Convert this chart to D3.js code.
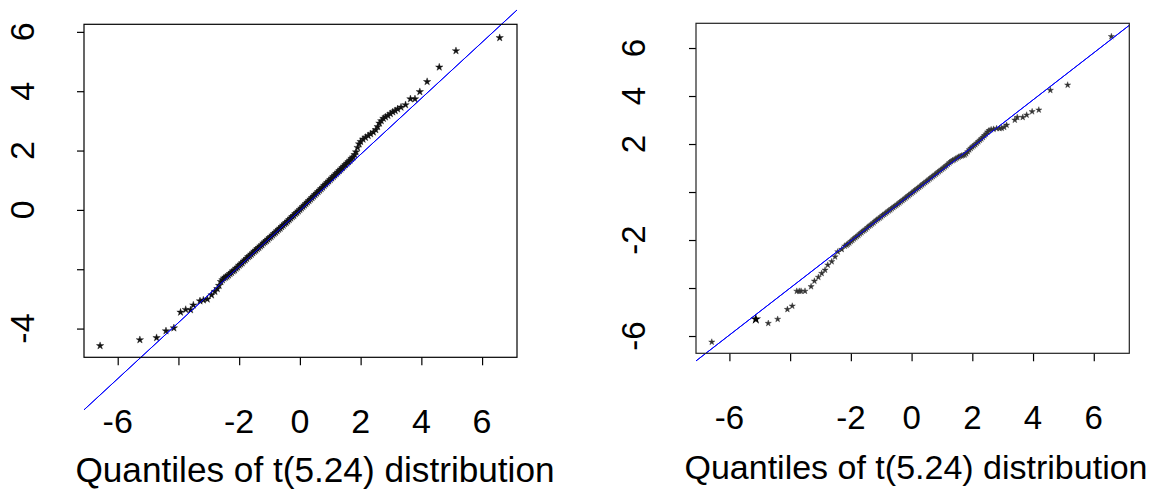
<!DOCTYPE html>
<html>
<head>
<meta charset="utf-8">
<script src="https://cdn.jsdelivr.net/npm/d3@7"></script>
<style>
  body { margin: 0; background: #fff; }
  svg text { font-family: "Liberation Sans", Arial, sans-serif; fill: #000; }
</style>
</head>
<body>
<svg id="chart" width="1160" height="495"></svg>
<script>
// ---- data ----
const xTicks = [-6, -4, -2, 0, 2, 4, 6];
const xTickLabels = [-6, -2, 0, 2, 4, 6];          // R dropped "-4" (overlap)
const xTitle = "Quantiles of t(5.24) distribution";

// left panel
const leftYTicks = [-4, -2, 0, 2, 4, 6];
const leftYTickLabels = [6, 4, 2, 0, -4];
const leftFit = [-0.02, 0.945];                     // intercept, slope
const leftQx = [-6.58, -5.27, -4.72, -4.41, -4.15, -3.93, -3.76, -3.60, -3.51, -3.29, -3.18, -3.05, -2.91, -2.80, -2.72, -2.66,
  -2.60, -2.55, -2.50, -2.45, -2.40, -2.35, -2.30, -2.25, -2.20, -2.15, -2.10, -2.05, -2.00, -1.95, -1.90, -1.85, -1.80, -1.75,
  -1.70, -1.65, -1.60, -1.55, -1.50, -1.45, -1.40, -1.35, -1.30, -1.25, -1.20, -1.15, -1.10, -1.05, -1.00, -0.95, -0.90, -0.85,
  -0.80, -0.75, -0.70, -0.65, -0.60, -0.55, -0.50, -0.45, -0.40, -0.35, -0.30, -0.25, -0.20, -0.15, -0.10, -0.05, 0.00, 0.05,
  0.10, 0.15, 0.20, 0.25, 0.30, 0.35, 0.40, 0.45, 0.50, 0.55, 0.60, 0.65, 0.70, 0.75, 0.80, 0.85, 0.90, 0.95, 1.00, 1.05,
  1.10, 1.15, 1.20, 1.25, 1.30, 1.35, 1.40, 1.45, 1.50, 1.55, 1.60, 1.65, 1.70, 1.75, 1.80,
  1.85, 1.90, 1.95, 2.00, 2.08, 2.16, 2.25, 2.33, 2.42, 2.50, 2.56, 2.62, 2.68, 2.75, 2.82, 2.90, 2.98, 3.06, 3.14, 3.22,
  3.33, 3.48, 3.64, 3.79, 3.95, 4.19, 4.59, 5.14, 6.58];
const leftQy = [-4.58, -4.38, -4.31, -4.08, -3.98, -3.45, -3.36, -3.37, -3.21, -3.07, -3.04, -3.01, -2.87, -2.75, -2.66, -2.55,
  -2.42, -2.36, -2.30, -2.27, -2.24, -2.20, -2.15, -2.11, -2.06, -2.03, -1.97, -1.93, -1.87, -1.83, -1.79, -1.73, -1.69, -1.64,
  -1.58, -1.55, -1.50, -1.45, -1.40, -1.36, -1.31, -1.27, -1.22, -1.18, -1.12, -1.08, -1.04, -0.99, -0.94, -0.90, -0.85, -0.80,
  -0.76, -0.71, -0.66, -0.62, -0.57, -0.52, -0.47, -0.43, -0.38, -0.33, -0.28, -0.23, -0.19, -0.13, -0.09, -0.04, 0.01, 0.06,
  0.11, 0.16, 0.21, 0.26, 0.31, 0.36, 0.41, 0.46, 0.51, 0.56, 0.61, 0.66, 0.71, 0.76, 0.82, 0.87, 0.92, 0.97, 1.02, 1.07,
  1.12, 1.17, 1.22, 1.27, 1.32, 1.37, 1.42, 1.47, 1.52, 1.57, 1.62, 1.67, 1.73, 1.78, 1.86,
  1.95, 2.10, 2.22, 2.30, 2.38, 2.44, 2.50, 2.56, 2.62, 2.70, 2.80, 2.92, 3.00, 3.08, 3.13, 3.18, 3.24, 3.30, 3.34, 3.40,
  3.46, 3.54, 3.74, 3.74, 3.98, 4.32, 4.81, 5.36, 5.80];

// right panel
const rightYTicks = [-6, -4, -2, 0, 2, 4, 6];
const rightYTickLabels = [6, 4, 2, -2, -6];
const rightFit = [-0.08, 0.98];
const rightQx = [-6.58, -4.72, -4.41, -4.09, -3.93, -3.78, -3.70, -3.64, -3.51, -3.31, -3.20, -3.07, -2.96, -2.85, -2.76, -2.63,
  -2.52, -2.43, -2.30, -2.20, -2.14,
  -2.10, -2.05, -2.00, -1.95, -1.90, -1.85, -1.80, -1.75, -1.70, -1.65, -1.60, -1.55, -1.50, -1.45, -1.40, -1.35, -1.30, -1.25,
  -1.20, -1.15, -1.10, -1.05, -1.00, -0.95, -0.90, -0.85, -0.80, -0.75, -0.70, -0.65, -0.60, -0.55, -0.50, -0.45, -0.40, -0.35,
  -0.30, -0.25, -0.20, -0.15, -0.10, -0.05, 0.00, 0.05, 0.10, 0.15, 0.20, 0.25, 0.30, 0.35, 0.40, 0.45, 0.50, 0.55, 0.60, 0.65,
  0.70, 0.75, 0.80, 0.85, 0.90, 0.95, 1.00, 1.05, 1.10, 1.15, 1.20, 1.25, 1.30, 1.35, 1.40, 1.45, 1.50, 1.55, 1.60, 1.65, 1.70,
  1.75, 1.80, 1.85, 1.90, 1.95, 2.00, 2.05, 2.10, 2.15, 2.20, 2.25, 2.30, 2.35, 2.40, 2.45, 2.50, 2.55,
  2.62, 2.70, 2.80, 2.90, 2.97, 3.05, 3.13, 3.40, 3.48, 3.66, 3.79, 3.97, 4.19, 4.57, 5.14, 6.58];
const rightQy = [-6.25, -5.47, -5.30, -4.89, -4.75, -4.13, -4.13, -4.13, -4.13, -3.94, -3.71, -3.55, -3.39, -3.25, -3.04, -2.90,
  -2.70, -2.49, -2.39, -2.25, -2.21,
  -2.17, -2.12, -2.06, -2.01, -1.95, -1.90, -1.85, -1.80, -1.74, -1.69, -1.63, -1.59, -1.54, -1.48, -1.42, -1.38, -1.33, -1.28,
  -1.22, -1.17, -1.12, -1.08, -1.03, -0.97, -0.93, -0.88, -0.83, -0.78, -0.74, -0.69, -0.64, -0.59, -0.55, -0.50, -0.45, -0.40,
  -0.35, -0.30, -0.25, -0.20, -0.15, -0.10, -0.05, 0.00, 0.05, 0.10, 0.15, 0.20, 0.25, 0.30, 0.35, 0.40, 0.45, 0.50, 0.55, 0.60,
  0.65, 0.70, 0.75, 0.80, 0.85, 0.90, 0.95, 1.00, 1.05, 1.10, 1.16, 1.22, 1.27, 1.31, 1.34, 1.38, 1.42, 1.46, 1.49, 1.51, 1.53,
  1.55, 1.60, 1.68, 1.76, 1.82, 1.88, 1.93, 1.98, 2.04, 2.10, 2.16, 2.22, 2.28, 2.35, 2.42, 2.50, 2.56,
  2.60, 2.62, 2.65, 2.65, 2.66, 2.70, 2.79, 3.00, 3.11, 3.11, 3.21, 3.35, 3.42, 4.24, 4.46, 6.48];
const rightBigStar = [[-5.13, -5.30]];   // overplotted point, drawn larger

// ---- layout (pixel boxes of the two plot regions) ----
const panels = [
  { box: [84, 24.3, 517, 357.3], xDom: [-7.11, 7.15], yDom: [-4.968, 6.255],
    qx: leftQx, qy: leftQy, fit: leftFit, yTicks: leftYTicks, yLabels: leftYTickLabels, big: [],
    starSize: 17, starColor: "#111", boxColor: "#000",
    yLabX: 22, xLabTop: 409, labFont: 34, titleX: 315, titleY: 482, titleFont: 35.2 },
  { box: [696, 23.3, 1129.3, 353.3], xDom: [-7.10, 7.17], yDom: [-6.72, 7.03],
    qx: rightQx, qy: rightQy, fit: rightFit, yTicks: rightYTicks, yLabels: rightYTickLabels, big: rightBigStar,
    starSize: 12, starColor: "#333", boxColor: "#222",
    yLabX: 633, xLabTop: 405, labFont: 33, titleX: 916, titleY: 479, titleFont: 34 }
];

const svg = d3.select("#chart");
const star = d3.symbol().type(d3.symbolStar);

panels.forEach((p, i) => {
  const [x0, y0, x1, y1] = p.box;
  const x = d3.scaleLinear().domain(p.xDom).range([x0, x1]);
  const y = d3.scaleLinear().domain(p.yDom).range([y1, y0]);
  const g = svg.append("g");

  // clip horizontally to the plot box, let the fit line spill vertically (as in the source)
  g.append("clipPath").attr("id", "clipx" + i)
    .append("rect").attr("x", x0).attr("y", 0).attr("width", x1 - x0).attr("height", 495);

  // axis ticks (labels drawn separately so the dropped ones stay dropped)
  g.append("g")
    .attr("transform", `translate(0,${y1})`)
    .call(d3.axisBottom(x).tickValues(xTicks).tickSize(8).tickFormat(""))
    .call(a => a.select(".domain").remove())
    .selectAll("line").attr("stroke", "#000").attr("stroke-width", 1.2);
  g.append("g")
    .attr("transform", `translate(${x0},0)`)
    .call(d3.axisLeft(y).tickValues(p.yTicks).tickSize(7).tickFormat(""))
    .call(a => a.select(".domain").remove())
    .selectAll("line").attr("stroke", "#000").attr("stroke-width", 1.2);

  // x tick labels
  g.selectAll(".xlab").data(xTickLabels).enter().append("text")
    .attr("class", "xlab")
    .attr("x", d => x(d))
    .attr("y", p.xLabTop)
    .attr("dy", "0.72em")
    .attr("text-anchor", "middle")
    .style("font-size", p.labFont + "px")
    .text(d => d);

  // y tick labels, rotated like R's las=0
  g.selectAll(".ylab").data(p.yLabels).enter().append("text")
    .attr("class", "ylab")
    .attr("transform", d => `translate(${p.yLabX},${y(d)}) rotate(-90)`)
    .attr("dy", "0.36em")
    .attr("text-anchor", "middle")
    .style("font-size", p.labFont + "px")
    .text(d => d);

  // axis title
  g.append("text")
    .attr("x", p.titleX).attr("y", p.titleY)
    .attr("text-anchor", "middle")
    .style("font-size", p.titleFont + "px")
    .text(xTitle);

  // reference line
  const [b0, b1] = p.fit;
  g.append("line")
    .attr("clip-path", `url(#clipx${i})`)
    .attr("x1", x(p.xDom[0])).attr("y1", y(b0 + b1 * p.xDom[0]))
    .attr("x2", x(p.xDom[1])).attr("y2", y(b0 + b1 * p.xDom[1]))
    .attr("stroke", "#0000ff").attr("stroke-width", 1);

  // quantile points
  const pts = d3.zip(p.qx, p.qy);
  g.selectAll(".pt").data(pts).enter().append("path")
    .attr("class", "pt")
    .attr("transform", d => `translate(${x(d[0])},${y(d[1])})`)
    .attr("d", star.size(p.starSize))
    .attr("fill", p.starColor)
    .attr("stroke", p.starColor).attr("stroke-width", 0.4);
  g.selectAll(".big").data(p.big).enter().append("path")
    .attr("class", "big")
    .attr("transform", d => `translate(${x(d[0])},${y(d[1])})`)
    .attr("d", star.size(34))
    .attr("fill", "#000");

  // reference line again on top of the dense band (it shows through in the source)
  g.append("line")
    .attr("clip-path", `url(#clipx${i})`)
    .attr("x1", x(p.xDom[0])).attr("y1", y(b0 + b1 * p.xDom[0]))
    .attr("x2", x(p.xDom[1])).attr("y2", y(b0 + b1 * p.xDom[1]))
    .attr("stroke", "#0000ff").attr("stroke-width", 1);

  // plot box
  g.append("rect")
    .attr("x", x0).attr("y", y0).attr("width", x1 - x0).attr("height", y1 - y0)
    .attr("fill", "none").attr("stroke", p.boxColor).attr("stroke-width", 1.2);
});
</script>
</body>
</html>
